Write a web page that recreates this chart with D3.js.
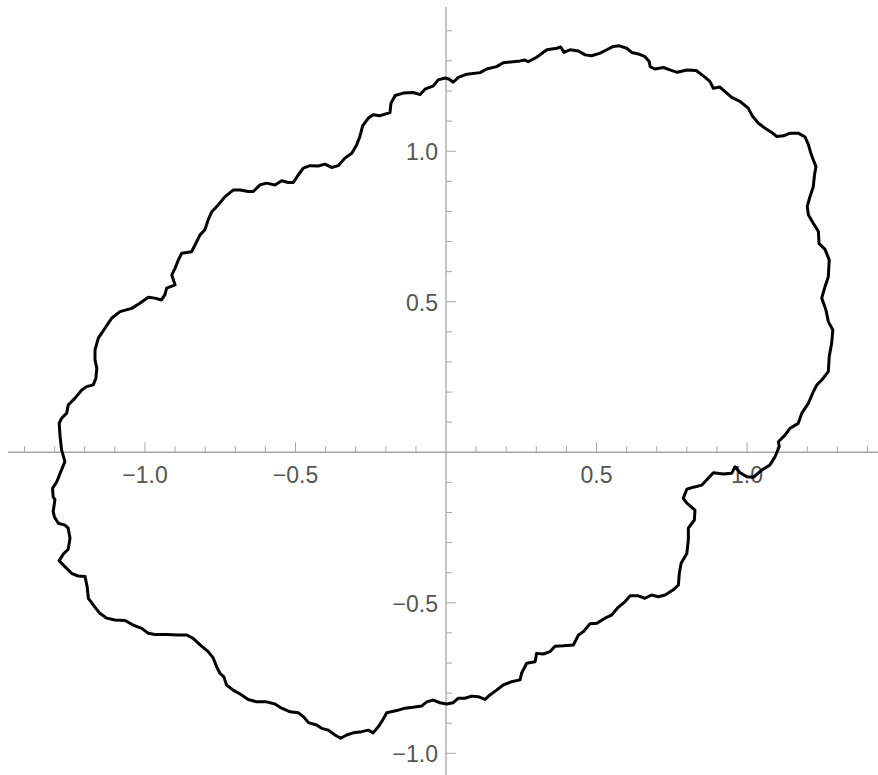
<!DOCTYPE html>
<html>
<head>
<meta charset="utf-8">
<script src="https://cdn.jsdelivr.net/npm/d3@7"></script>
<style>
html,body{margin:0;padding:0;background:#fff;}
svg{display:block;}
</style>
</head>
<body>
<svg id="svg" width="878" height="775"></svg>
<script>
// closed curve, in plot units, clockwise from the upper left
let upperArc=[[-0.845,0.666],[-0.828,0.700],[-0.817,0.722],[-0.801,0.739],[-0.790,0.772],[-0.778,0.799],[-0.756,0.822],[-0.734,0.849],[-0.707,0.871],[-0.684,0.871],[-0.657,0.866],[-0.640,0.866],[-0.618,0.888],[-0.596,0.894],[-0.568,0.888],[-0.546,0.902],[-0.524,0.896],[-0.507,0.896],[-0.491,0.921],[-0.474,0.944],[-0.452,0.952],[-0.424,0.951],[-0.402,0.957],[-0.380,0.946],[-0.358,0.952],[-0.336,0.977],[-0.313,0.993],[-0.297,1.021],[-0.286,1.049],[-0.277,1.084],[-0.258,1.110],[-0.242,1.121],[-0.219,1.118],[-0.186,1.128],[-0.183,1.159],[-0.169,1.185],[-0.142,1.193],[-0.109,1.195],[-0.086,1.188],[-0.070,1.206],[-0.042,1.217],[-0.026,1.237],[-0.003,1.243],[0.011,1.239],[0.024,1.229],[0.041,1.245],[0.069,1.256],[0.113,1.261],[0.135,1.273],[0.168,1.281],[0.190,1.294],[0.246,1.300],[0.262,1.303],[0.273,1.297],[0.301,1.312],[0.335,1.337],[0.368,1.342],[0.381,1.346],[0.392,1.328],[0.412,1.337],[0.440,1.333],[0.462,1.320],[0.484,1.317],[0.512,1.326],[0.534,1.337],[0.556,1.348],[0.576,1.350],[0.600,1.342],[0.617,1.328],[0.639,1.323],[0.661,1.314],[0.675,1.298],[0.678,1.281],[0.694,1.273],[0.722,1.278],[0.744,1.270],[0.768,1.262],[0.800,1.270],[0.831,1.268]];
let rightArc=[[0.860,1.246],[0.877,1.231],[0.888,1.209],[0.910,1.213],[0.927,1.198],[0.949,1.179],[0.977,1.165],[1.004,1.143],[1.019,1.115],[1.038,1.093],[1.060,1.076],[1.082,1.062],[1.099,1.049],[1.121,1.051],[1.143,1.060],[1.170,1.060],[1.193,1.047],[1.204,1.021],[1.212,0.993],[1.220,0.971],[1.229,0.949],[1.224,0.921],[1.220,0.882],[1.209,0.849],[1.200,0.816],[1.204,0.788],[1.220,0.761],[1.237,0.733],[1.239,0.694],[1.259,0.674],[1.273,0.639],[1.270,0.583],[1.259,0.550],[1.248,0.512],[1.262,0.473],[1.270,0.434],[1.285,0.406],[1.281,0.362],[1.273,0.318],[1.270,0.268],[1.248,0.240],[1.232,0.224],[1.220,0.201],[1.204,0.163],[1.182,0.130],[1.170,0.096],[1.143,0.080],[1.126,0.057],[1.104,0.035],[1.107,0.019],[1.093,-0.015],[1.076,-0.042],[1.049,-0.059],[1.021,-0.083],[0.999,-0.081],[0.977,-0.068],[0.960,-0.048],[0.949,-0.070],[0.921,-0.072],[0.888,-0.068],[0.871,-0.086],[0.850,-0.109],[0.822,-0.116],[0.800,-0.123],[0.788,-0.153],[0.800,-0.169]];
let lowerArc=[[0.827,-0.192],[0.825,-0.225],[0.805,-0.252],[0.805,-0.291],[0.800,-0.336],[0.781,-0.369],[0.775,-0.402],[0.772,-0.441],[0.755,-0.457],[0.728,-0.474],[0.705,-0.480],[0.683,-0.474],[0.661,-0.485],[0.639,-0.477],[0.611,-0.477],[0.595,-0.496],[0.572,-0.515],[0.550,-0.541],[0.528,-0.551],[0.501,-0.568],[0.478,-0.570],[0.456,-0.596],[0.440,-0.607],[0.423,-0.640],[0.390,-0.643],[0.362,-0.644],[0.346,-0.662],[0.323,-0.670],[0.301,-0.668],[0.296,-0.696],[0.268,-0.701],[0.251,-0.734],[0.246,-0.756],[0.218,-0.762],[0.190,-0.773],[0.168,-0.790],[0.146,-0.806],[0.130,-0.821],[0.107,-0.812],[0.085,-0.810],[0.063,-0.817],[0.041,-0.817],[0.024,-0.832],[0.002,-0.836],[-0.020,-0.832],[-0.042,-0.823],[-0.064,-0.829],[-0.081,-0.843],[-0.109,-0.847],[-0.136,-0.850],[-0.164,-0.858],[-0.197,-0.865],[-0.210,-0.889],[-0.225,-0.912],[-0.242,-0.932],[-0.258,-0.923],[-0.280,-0.928],[-0.308,-0.932],[-0.330,-0.939],[-0.350,-0.950],[-0.369,-0.939],[-0.391,-0.923],[-0.413,-0.917],[-0.430,-0.906],[-0.457,-0.898],[-0.474,-0.878],[-0.491,-0.865],[-0.518,-0.862],[-0.546,-0.850],[-0.568,-0.836],[-0.596,-0.829],[-0.629,-0.829],[-0.657,-0.821],[-0.684,-0.803],[-0.707,-0.790],[-0.729,-0.773],[-0.738,-0.746],[-0.751,-0.734],[-0.762,-0.712],[-0.773,-0.684],[-0.790,-0.662],[-0.817,-0.640],[-0.840,-0.618],[-0.861,-0.607],[-0.889,-0.607],[-0.928,-0.605],[-0.967,-0.605],[-0.989,-0.601],[-1.011,-0.585],[-1.039,-0.574],[-1.066,-0.559],[-1.100,-0.557],[-1.127,-0.551],[-1.150,-0.535],[-1.172,-0.507],[-1.188,-0.485]];
let leftArc=[[-1.192,-0.447],[-1.199,-0.413],[-1.222,-0.411],[-1.244,-0.402],[-1.266,-0.380],[-1.285,-0.360],[-1.271,-0.338],[-1.255,-0.322],[-1.249,-0.286],[-1.255,-0.252],[-1.266,-0.242],[-1.288,-0.236],[-1.301,-0.214],[-1.305,-0.197],[-1.299,-0.158],[-1.305,-0.148],[-1.307,-0.120],[-1.293,-0.098],[-1.282,-0.070],[-1.266,-0.031],[-1.277,0.008],[-1.282,0.052],[-1.285,0.096],[-1.277,0.113],[-1.260,0.130],[-1.255,0.157],[-1.233,0.179],[-1.210,0.207],[-1.194,0.218],[-1.172,0.224],[-1.163,0.246],[-1.160,0.279],[-1.166,0.307],[-1.166,0.340],[-1.155,0.379],[-1.133,0.412],[-1.111,0.445],[-1.083,0.467],[-1.044,0.478],[-1.017,0.495],[-0.989,0.515],[-0.967,0.512],[-0.945,0.506],[-0.934,0.523],[-0.928,0.545],[-0.900,0.556],[-0.911,0.589],[-0.900,0.611],[-0.889,0.639],[-0.878,0.661]];

let xMajor=[-1.0,-0.5,0.5,1.0];
let xLabels=["\u22121.0","\u22120.5","0.5","1.0"];
let yMajor=[-1.0,-0.5,0.5,1.0];
let yLabels=["\u22121.0","\u22120.5","0.5","1.0"];
let xMinor=[-1.4,-1.3,-1.2,-1.1,-0.9,-0.8,-0.7,-0.6,-0.4,-0.3,-0.2,-0.1,0.1,0.2,0.3,0.4,0.6,0.7,0.8,0.9,1.1,1.2,1.3,1.4];
let yMinor=[-0.9,-0.8,-0.7,-0.6,-0.4,-0.3,-0.2,-0.1,0.1,0.2,0.3,0.4,0.6,0.7,0.8,0.9,1.1,1.2,1.3,1.4];

const svg=d3.select("#svg");
const x=d3.scaleLinear().domain([-1.455,1.435]).range([8,878]);
const y=d3.scaleLinear().domain([1.479,-1.072]).range([7,775]);
const axisCol="#a6a6a6";
const textCol="#555555";
const font="'Liberation Sans', Arial, sans-serif";

// axes lines
svg.append("line").attr("x1",x(-1.455)).attr("x2",x(1.435)).attr("y1",y(0)).attr("y2",y(0)).attr("stroke",axisCol).attr("stroke-width",1.3);
svg.append("line").attr("x1",x(0)).attr("x2",x(0)).attr("y1",y(1.479)).attr("y2",y(-1.072)).attr("stroke",axisCol).attr("stroke-width",1.3);

// ticks: x ticks point up, y ticks point right
for(let i=0;i<xMinor.length;i++)
{
    svg.append("line").attr("x1",x(xMinor[i])).attr("x2",x(xMinor[i])).attr("y1",y(0)).attr("y2",y(0)-6).attr("stroke",axisCol).attr("stroke-width",1);
}
for(let i=0;i<xMajor.length;i++)
{
    svg.append("line").attr("x1",x(xMajor[i])).attr("x2",x(xMajor[i])).attr("y1",y(0)).attr("y2",y(0)-10).attr("stroke",axisCol).attr("stroke-width",1);
    svg.append("text").attr("x",x(xMajor[i])).attr("y",y(0)+30.5).attr("text-anchor","middle").style("font-family",font).style("font-size","23px").style("fill",textCol).text(xLabels[i]);
}
for(let i=0;i<yMinor.length;i++)
{
    svg.append("line").attr("x1",x(0)).attr("x2",x(0)+6).attr("y1",y(yMinor[i])).attr("y2",y(yMinor[i])).attr("stroke",axisCol).attr("stroke-width",1);
}
for(let i=0;i<yMajor.length;i++)
{
    svg.append("line").attr("x1",x(0)).attr("x2",x(0)+10).attr("y1",y(yMajor[i])).attr("y2",y(yMajor[i])).attr("stroke",axisCol).attr("stroke-width",1);
    svg.append("text").attr("x",x(0)-8).attr("y",y(yMajor[i])+9).attr("text-anchor","end").style("font-family",font).style("font-size","23px").style("fill",textCol).text(yLabels[i]);
}

// the loop
let loop=upperArc.concat(rightArc,lowerArc,leftArc);
let line=d3.line().x(d=>x(d[0])).y(d=>y(d[1])).curve(d3.curveLinearClosed);
svg.append("path").attr("d",line(loop)).attr("fill","none").attr("stroke","#000").attr("stroke-width",3).attr("stroke-linejoin","round");
</script>
</body>
</html>
